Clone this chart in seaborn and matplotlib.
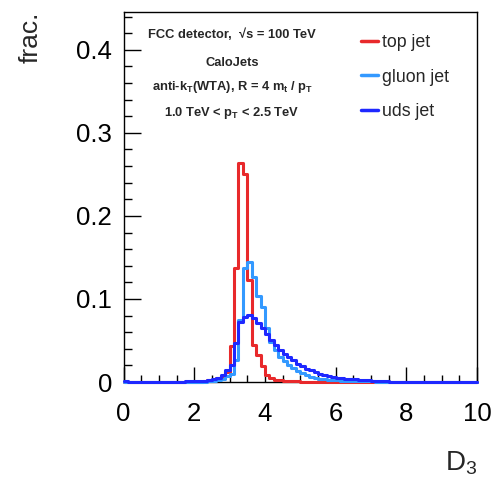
import numpy as np
import pandas as pd
import matplotlib
matplotlib.use("Agg")
import matplotlib.pyplot as plt
from matplotlib.lines import Line2D
from matplotlib.ticker import MultipleLocator, FuncFormatter
import seaborn as sns

# ---- data: fraction per bin, 80 bins of width 0.125 on [0, 10] ----
bin_edges = [i * 0.125 for i in range(81)]

top_jet = [0.0] * 18 + [
    0.001, 0.002, 0.003, 0.005, 0.007, 0.012,          # 2.25 - 2.875
    0.043, 0.137, 0.264, 0.251, 0.123, 0.045,          # 3.0 - 3.625
    0.033, 0.019, 0.009, 0.005, 0.003, 0.002,          # 3.75 - 4.375
    0.0015, 0.001, 0.001, 0.0008, 0.0006, 0.0005,      # 4.5 - 5.125
    0.0004, 0.0003, 0.0003, 0.0002, 0.0002, 0.0002,    # 5.25 - 5.875
    0.0001, 0.0001, 0.0001, 0.0001, 0.0001, 0.0001,    # 6.0 - 6.625
] + [0.0] * 26

gluon_jet = [0.0001] * 14 + [
    0.0005, 0.0005, 0.0005, 0.0005, 0.0005,            # 1.75 - 2.25
    0.001, 0.0015, 0.0025, 0.004, 0.007,               # 2.375 - 2.875
    0.010, 0.027, 0.075, 0.137, 0.145, 0.127,          # 3.0 - 3.625
    0.104, 0.090, 0.065, 0.048, 0.039, 0.030,          # 3.75 - 4.375
    0.025, 0.020, 0.0165, 0.0135, 0.0105, 0.0085,      # 4.5 - 5.125
    0.0065, 0.0052, 0.0042, 0.0034, 0.0027, 0.0023,    # 5.25 - 5.875
    0.0020, 0.0018, 0.0016, 0.0014, 0.0012, 0.0011,    # 6.0 - 6.625
    0.0010, 0.0009, 0.0007, 0.0005, 0.0005, 0.0005,    # 6.75 - 7.375
] + [0.0002] * 20

uds_jet = [0.0015] + [0.0003] * 13 + [
    0.0012, 0.0012, 0.0012, 0.0012, 0.0012,            # 1.75 - 2.25
    0.0025, 0.0035, 0.005, 0.009, 0.014,               # 2.375 - 2.875
    0.020, 0.047, 0.072, 0.078, 0.081, 0.077,          # 3.0 - 3.625
    0.071, 0.065, 0.058, 0.051, 0.045, 0.039,          # 3.75 - 4.375
    0.034, 0.030, 0.026, 0.022, 0.019, 0.016,          # 4.5 - 5.125
    0.014, 0.012, 0.010, 0.0085, 0.0072, 0.0062,       # 5.25 - 5.875
    0.0055, 0.0048, 0.0042, 0.0037, 0.0032, 0.0028,    # 6.0 - 6.625
    0.0024, 0.0021, 0.0018, 0.0016, 0.0014, 0.0012,    # 6.75 - 7.375
] + [0.0006] * 20

series_names = ["top jet", "gluon jet", "uds jet"]
series_colors = ["#e8292b", "#3399ff", "#1e28ff"]
series_values = [top_jet, gluon_jet, uds_jet]

y_ticks = [0.0, 0.1, 0.2, 0.3, 0.4]
x_ticks = [0, 2, 4, 6, 8, 10]

# ---- style ----
sns.set_style("ticks")
plt.rcParams["font.family"] = ["Liberation Sans", "DejaVu Sans"]
plt.rcParams["mathtext.fontset"] = "custom"
plt.rcParams["mathtext.rm"] = "Liberation Sans"
plt.rcParams["mathtext.it"] = "Liberation Sans:italic"
plt.rcParams["mathtext.bf"] = "Liberation Sans:bold"

fig = plt.figure(figsize=(4.98, 4.8), dpi=100)
ax = fig.add_axes([0.248, 0.204, 0.710, 0.772])

centers = [(bin_edges[i] + bin_edges[i + 1]) / 2 for i in range(len(bin_edges) - 1)]
for i, (name, col, vals) in enumerate(zip(series_names, series_colors, series_values)):
    df = pd.DataFrame({"D3": centers, "frac": vals})
    n_before = len(ax.lines)
    sns.histplot(data=df, x="D3", weights="frac", bins=bin_edges,
                 element="step", fill=False, color=col, linewidth=2.2,
                 ax=ax, legend=False)
    for ln in ax.lines[n_before:]:
        ln.set_clip_on(False)
        ln.set_zorder(3 + i)

ax.set_xlim(0, 10)
ax.set_ylim(0, 0.446)
ax.set_xticks(x_ticks)
ax.set_yticks(y_ticks)
ax.xaxis.set_minor_locator(MultipleLocator(0.5))
ax.yaxis.set_minor_locator(MultipleLocator(0.02))
ax.yaxis.set_major_formatter(FuncFormatter(lambda v, p: "0" if abs(v) < 1e-9 else f"{v:.1f}"))
ax.xaxis.set_major_formatter(FuncFormatter(lambda v, p: f"{v:.0f}"))
ax.tick_params(axis="both", which="both", direction="in", top=False, right=False,
               colors="black", width=1)
ax.tick_params(axis="y", which="major", length=12, labelsize=18.5, pad=8.3)
ax.tick_params(axis="y", which="minor", length=6)
ax.tick_params(axis="x", which="major", length=11, labelsize=18.5, pad=14)
ax.tick_params(axis="x", which="minor", length=5)
for s in ax.spines.values():
    s.set_visible(True)
    s.set_color("black")
    s.set_linewidth(1)

ax.set_ylabel("frac.", fontsize=19, loc="top")
ax.yaxis.set_label_coords(-0.228, 1.0)
ax.set_xlabel(r"$\mathrm{D_3}$", fontsize=20, loc="right")
ax.xaxis.set_label_coords(1.0, -0.182)

# ---- annotations ----
def ax_x(px):
    return (px - 123.5) / 353.5

def ax_y(py):
    return (382 - py) / 370.3

tkw = dict(transform=ax.transAxes, ha="center", va="center", fontsize=9.3, fontweight="bold")
ax.text(ax_x(232), ax_y(35), "FCC detector,  \u221as = 100 TeV", **tkw)
ax.text(ax_x(232), ax_y(63), "CaloJets", **tkw)
ax.text(ax_x(233), ax_y(87), r"anti-$\mathbf{k_T}$(WTA), R = 4 $\mathbf{m_t}$ / $\mathbf{p_T}$", **tkw)
ax.text(ax_x(232), ax_y(113), r"1.0 TeV < $\mathbf{p_T}$ < 2.5 TeV", **tkw)

handles = [Line2D([0], [0], color=c, lw=2.5) for c in series_colors]
ax.legend(handles, series_names, loc="upper left", bbox_to_anchor=(ax_x(361), ax_y(34)),
          frameon=False, fontsize=12.8, handlelength=0.95, handletextpad=0.25,
          labelspacing=1.0, borderpad=0, borderaxespad=0)

fig.savefig("out.png", dpi=100)
